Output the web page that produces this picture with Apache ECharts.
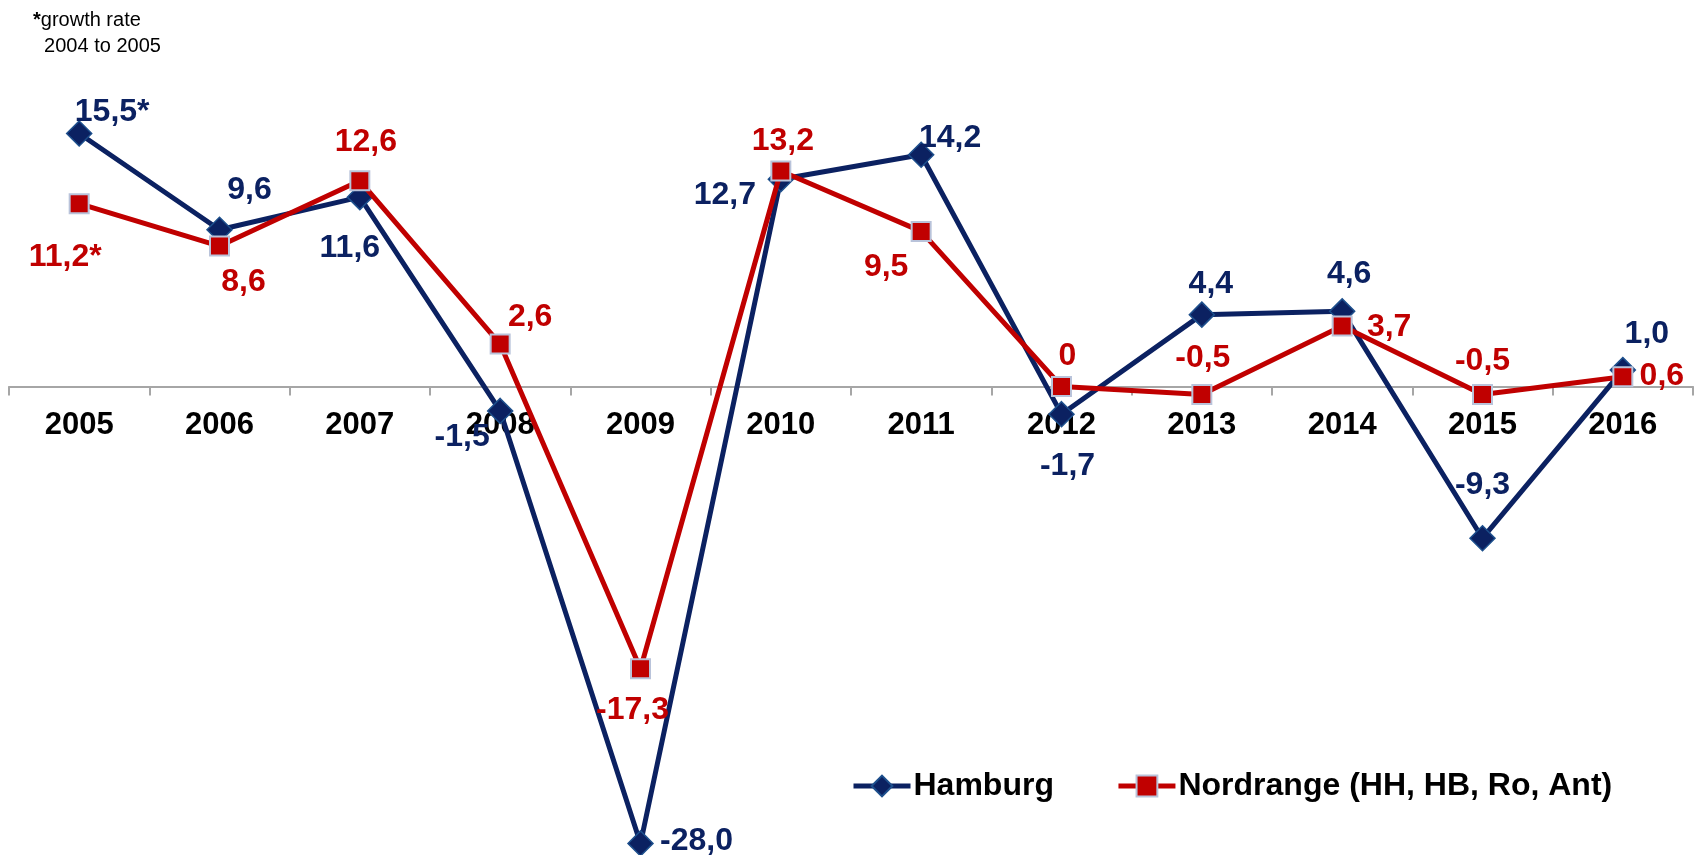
<!DOCTYPE html>
<html>
<head>
<meta charset="utf-8">
<script src="https://cdn.jsdelivr.net/npm/echarts@6/dist/echarts.min.js"></script>
<style>
  html, body { margin: 0; padding: 0; background: #ffffff; }
  #chart { width: 1700px; height: 855px; }
</style>
</head>
<body>
<div id="chart"></div>
<script>
// ---- data ----
const years = ['2005','2006','2007','2008','2009','2010','2011','2012','2013','2014','2015','2016'];
const hamburg = [15.5, 9.6, 11.6, -1.5, -28.0, 12.7, 14.2, -1.7, 4.4, 4.6, -9.3, 1.0];
const nordrange = [11.2, 8.6, 12.6, 2.6, -17.3, 13.2, 9.5, 0, -0.5, 3.7, -0.5, 0.6];
const labelSuffix = ['*', '', '', '', '', '', '', '', '', '', '', ''];
const seriesNames = ['Hamburg', 'Nordrange (HH, HB, Ro, Ant)'];
const noteLines = ['growth rate', '2004 to 2005'];
const yMin = -28;
const yMax = 22;

// label placement offsets (pixels, relative to marker)
const hamburgLabelOffsets = [[33,-21],[30,-40],[-10,51],[-38,26],[56,-2],[-56,16],[29,-17],[6,52],[9,-30],[7,-37],[0,-53],[24,-36]];
const nordLabelOffsets = [[-14,54],[24,36],[6,-39],[30,-27],[-8,41],[2,-30],[-35,36],[6,-30],[1,-36],[47,1],[0,-33],[39,0]];

const NAVY = '#0b2161';
const RED = '#c00000';
const FONT = '"Liberation Sans", Arial, sans-serif';

function fmt(v, i) {
  const s = (v === 0) ? '0' : v.toFixed(1).replace('.', ',');
  return s + labelSuffix[i];
}

function buildData(values, offsets) {
  return values.map((v, i) => ({
    value: v,
    label: { offset: offsets[i] }
  }));
}

const chart = echarts.init(document.getElementById('chart'), null, { renderer: 'canvas' });

const option = {
  backgroundColor: '#ffffff',
  animation: false,
  textStyle: { fontFamily: FONT },
  grid: { left: 9, right: 7, top: 27.4, bottom: 11.6, containLabel: false, outerBoundsMode: 'none' },
  graphic: [{
    type: 'text',
    left: 33,
    top: 7,
    style: {
      text: '{a|*}' + noteLines[0] + '\n  ' + noteLines[1],
      rich: {
        a: { fontWeight: 'bold', fontSize: 20, fontFamily: FONT, fill: '#000' }
      },
      fontSize: 20,
      fontFamily: FONT,
      fill: '#000',
      lineHeight: 26
    }
  }],
  legend: {
    left: 846,
    top: 765,
    itemWidth: 57,
    itemHeight: 26,
    itemGap: 62,
    lineStyle: { width: 5 },
    textStyle: { fontSize: 32, fontWeight: 'bold', color: '#000', fontFamily: FONT, padding: [0,0,0,-2] },
    data: seriesNames
  },
  xAxis: {
    type: 'category',
    data: years,
    boundaryGap: true,
    position: 'bottom',
    offset: 0,
    axisLine: { show: true, onZero: false, lineStyle: { color: '#a6a6a6', width: 2 } },
    axisTick: { show: true, length: 9, lineStyle: { color: '#a6a6a6', width: 2 } },
    axisLabel: { fontSize: 31, fontWeight: 'bold', color: '#000', fontFamily: FONT, margin: 24 },
    splitLine: { show: false }
  },
  yAxis: {
    type: 'value',
    min: yMin,
    max: yMax,
    show: false,
    splitLine: { show: false }
  },
  series: [
    {
      name: seriesNames[0],
      type: 'line',
      data: buildData(hamburg, hamburgLabelOffsets),
      symbol: 'diamond',
      symbolSize: 25,
      clip: false,
      lineStyle: { color: NAVY, width: 5 },
      itemStyle: { color: NAVY, borderColor: '#1d4f8c', borderWidth: 1.5 },
      label: {
        show: true,
        position: 'inside',
        align: 'center',
        verticalAlign: 'middle',
        fontSize: 32,
        fontWeight: 'bold',
        fontFamily: FONT,
        color: NAVY,
        formatter: p => fmt(p.value, p.dataIndex)
      },
      z: 2
    },
    {
      name: seriesNames[1],
      type: 'line',
      data: buildData(nordrange, nordLabelOffsets),
      symbol: 'rect',
      symbolSize: 19,
      clip: false,
      lineStyle: { color: RED, width: 5 },
      itemStyle: { color: RED, borderColor: '#b9c3da', borderWidth: 2 },
      label: {
        show: true,
        position: 'inside',
        align: 'center',
        verticalAlign: 'middle',
        fontSize: 32,
        fontWeight: 'bold',
        fontFamily: FONT,
        color: RED,
        formatter: p => fmt(p.value, p.dataIndex)
      },
      z: 3
    }
  ]
};

chart.setOption(option);

// move the category axis (line, ticks and labels) up to the zero line, using the value axis scale
const zeroY = chart.convertToPixel({ yAxisIndex: 0 }, 0);
const bottomY = chart.convertToPixel({ yAxisIndex: 0 }, yMin);
chart.setOption({ xAxis: { offset: -(bottomY - zeroY) } });
</script>
</body>
</html>
